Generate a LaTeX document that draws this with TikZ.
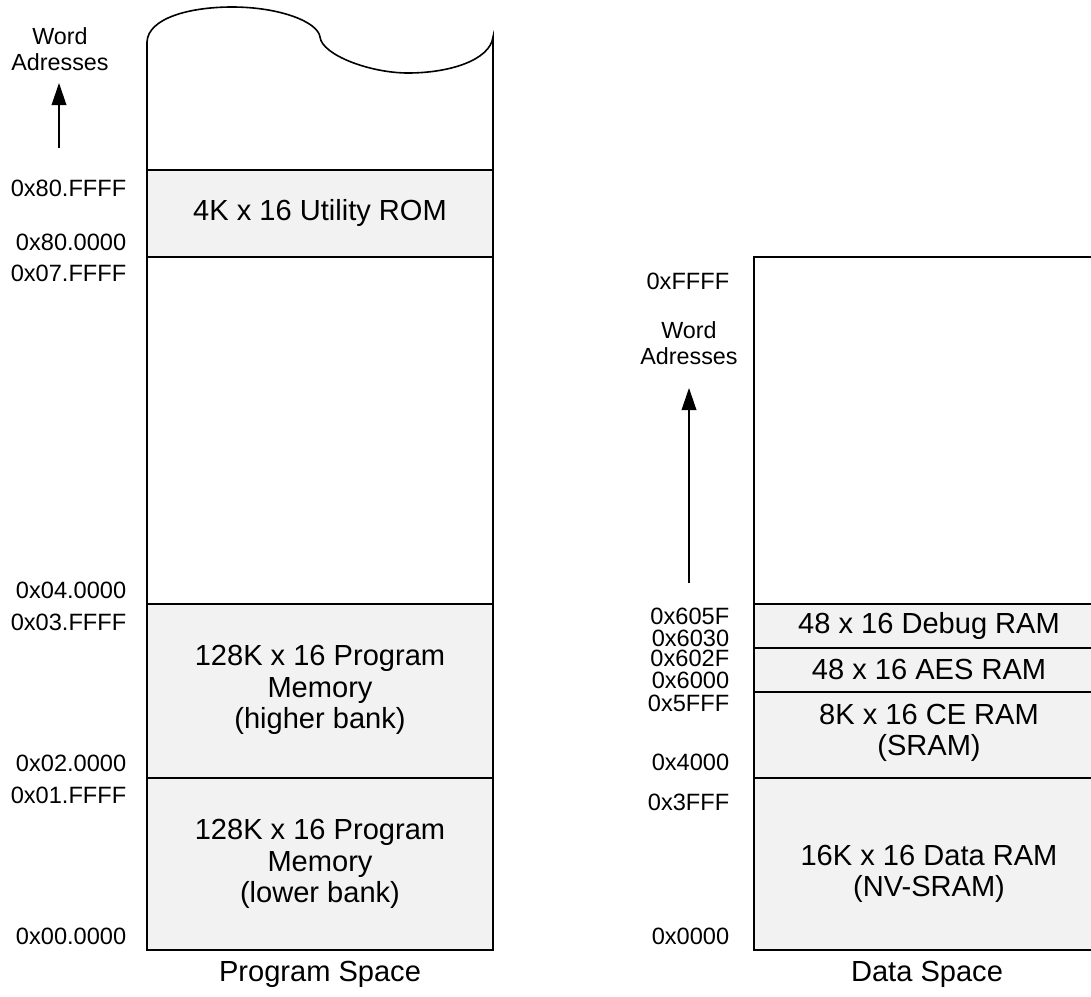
\documentclass[tikz,border=0pt]{standalone}
\usepackage{fontspec}
\setmainfont{Liberation Sans}
\usetikzlibrary{arrows.meta}
\definecolor{memfill}{HTML}{F2F2F2}
\begin{document}
\begin{tikzpicture}[x=0.75pt,y=-0.75pt,
  line width=1.2pt,
  memtext/.style={font=\fontsize{21.8}{23.5}\selectfont, align=center, inner sep=0pt},
  addr/.style={font=\fontsize{17.7}{19}\selectfont, anchor=east, inner sep=0pt},
  wordlbl/.style={font=\fontsize{17.5}{20}\selectfont, align=center, inner sep=0pt},
  uparrow/.style={line width=1pt, -{Triangle[length=16.5pt,width=11pt]}}]
\useasboundingbox (0,0) rectangle (1091,996);
% ---------- Program space ----------
\fill[memfill] (147,170) rectangle (493,257);
\fill[memfill] (147,604) rectangle (493,950);
\draw (147,42) .. controls (148,18) and (190,7) .. (232,7)
  .. controls (280,7) and (318,22) .. (320,37)
  .. controls (322,55) and (370,73) .. (408,73)
  .. controls (450,73) and (490,60) .. (493,37)
  -- (493,950) -- (147,950) -- cycle;
\draw (147,170) -- (493,170);
\draw (147,257) -- (493,257);
\draw (147,604) -- (493,604);
\draw (147,778) -- (493,778);

\node[memtext] (rom) at (320,213) {4K x 16 Utility ROM};
\node[memtext] (hib) at (320,690) {128K x 16 Program\\Memory\\(higher bank)};
\node[memtext] (lob) at (320,864) {128K x 16 Program\\Memory\\(lower bank)};
\node[memtext] (ps) at (320,974) {Program Space};

\node[addr] (a1) at (127,188) {0x80.FFFF};
\node[addr] (a2) at (127,242) {0x80.0000};
\node[addr] (a3) at (127,273) {0x07.FFFF};
\node[addr] (a4) at (127,590) {0x04.0000};
\node[addr] (a5) at (127,622) {0x03.FFFF};
\node[addr] (a6) at (127,763) {0x02.0000};
\node[addr] (a7) at (127,795) {0x01.FFFF};
\node[addr] (a8) at (127,936) {0x00.0000};

\node[wordlbl] (w1) at (60,49) {Word\\Adresses};
\coordinate (w1tail) at (59,148);
\coordinate (w1tip) at (59,83);
\draw[uparrow] (w1tail) -- (w1tip);

% ---------- Data space ----------
\fill[memfill] (754,604) rectangle (1102,950);
\draw (1102,257) -- (754,257) -- (754,950) -- (1102,950);
\draw (754,604) -- (1102,604);
\draw (754,648) -- (1102,648);
\draw (754,692) -- (1102,692);
\draw (754,778) -- (1102,778);

\node[memtext] (dbg) at (929,626) {48 x 16 Debug RAM};
\node[memtext] (aes) at (929,669) {48 x 16 AES RAM};
\node[memtext] (ce) at (929,733) {8K x 16 CE RAM\\(SRAM)};
\node[memtext] (dr) at (929,874) {16K x 16 Data RAM\\(NV-SRAM)};
\node[memtext] (ds) at (927,974) {Data Space};

\node[addr] (b1) at (730,281) {0xFFFF};
\node[addr] (b2) at (730,616) {0x605F};
\node[addr] (b3) at (730,638) {0x6030};
\node[addr] (b4) at (730,658) {0x602F};
\node[addr] (b5) at (730,680) {0x6000};
\node[addr] (b6) at (730,703) {0x5FFF};
\node[addr] (b7) at (730,762) {0x4000};
\node[addr] (b8) at (730,802) {0x3FFF};
\node[addr] (b9) at (730,936) {0x0000};

\node[wordlbl] (w2) at (689,343) {Word\\Adresses};
\coordinate (w2tail) at (689,583);
\coordinate (w2tip) at (689,388);
\draw[uparrow] (w2tail) -- (w2tip);
\end{tikzpicture}
\end{document}
